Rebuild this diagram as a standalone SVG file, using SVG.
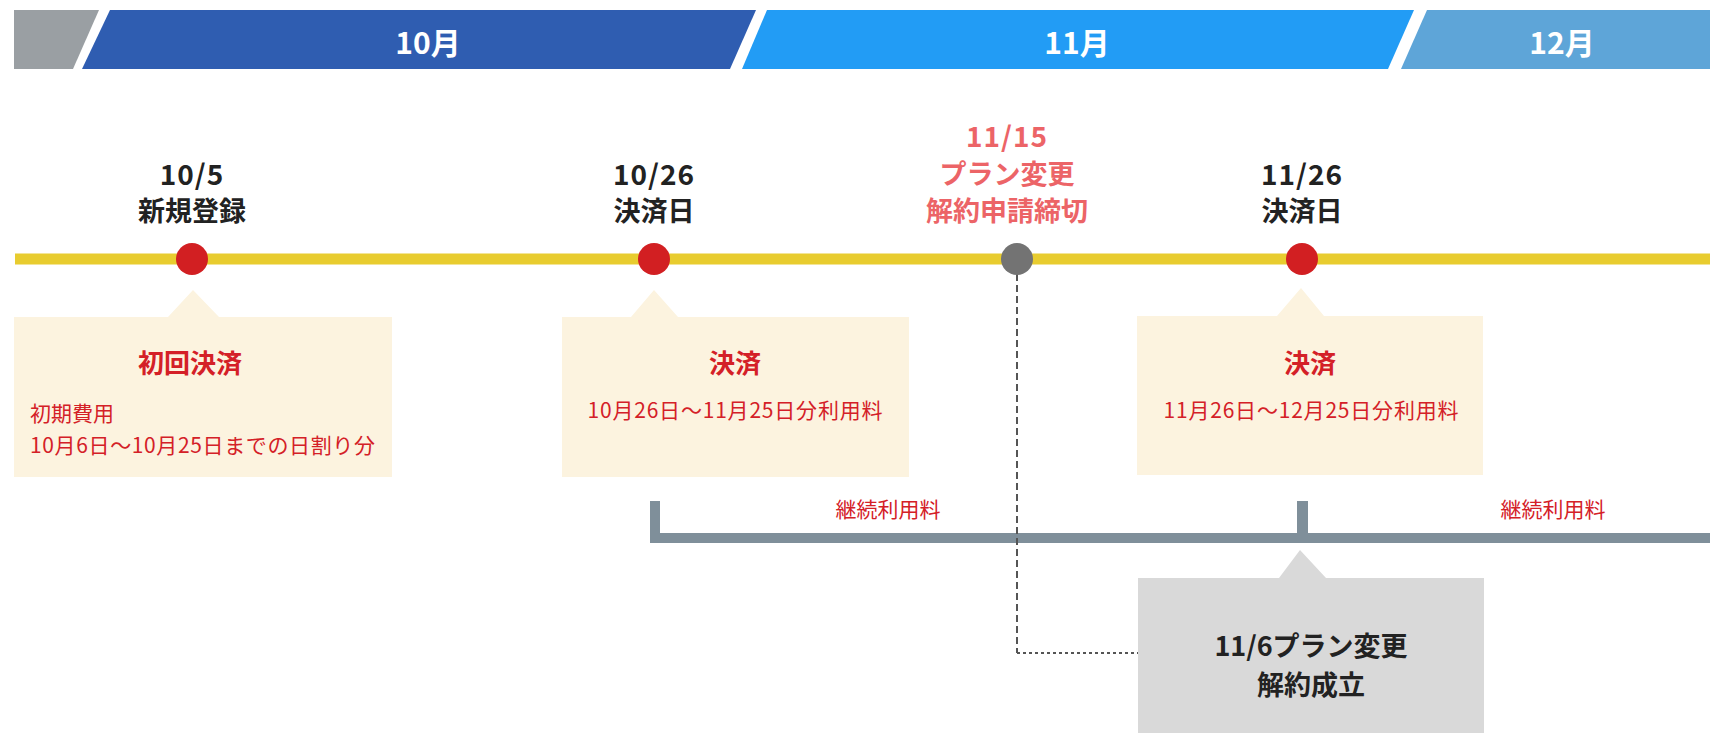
<svg xmlns="http://www.w3.org/2000/svg" width="1710" height="733" viewBox="0 0 1710 733">
<style>
text{font-family:"Noto Sans CJK JP","Noto Sans",sans-serif}
.hd{fill:#fff;font-size:30px;font-weight:bold;text-anchor:middle}
.dt{fill:#222;font-size:28px;font-weight:bold;text-anchor:middle;letter-spacing:1px}
.dk{fill:#222;font-size:27px;font-weight:bold;text-anchor:middle}
.sal{fill:#ec6467}
.ttl{fill:#d42027;font-size:26px;font-weight:bold;text-anchor:middle}
.sub{fill:#d42027;font-size:21px}
.mid{text-anchor:middle}
.box{fill:#fcf3df}
.dot{fill:#d21f22}
.brk{fill:#7f8f9a}
</style>
<g id="header">
<polygon points="14,10 99,10 73,69 14,69" fill="#9a9fa3"/>
<polygon points="110,10 756,10 730,69 82,69" fill="#2f5db1"/>
<polygon points="767,10 1414,10 1388,69 742,69" fill="#229cf5"/>
<polygon points="1427,10 1710,10 1710,69 1401,69" fill="#5ea5d8"/>
<text class="hd" x="428" y="54">10月</text>
<text class="hd" x="1077" y="54">11月</text>
<text class="hd" x="1562" y="54">12月</text>
</g>
<g id="connectors">
<line x1="15" y1="259" x2="1710" y2="259" stroke="#e8cc2f" stroke-width="11"/>
<rect class="brk" x="650" y="501" width="10" height="42"/>
<rect class="brk" x="1297" y="501" width="11" height="42"/>
<rect class="brk" x="650" y="533" width="1060" height="10"/>
<path d="M1017,274 V653" fill="none" stroke="#555" stroke-width="2" stroke-dasharray="7 4"/>
<path d="M1017,653 H1138" fill="none" stroke="#555" stroke-width="2" stroke-dasharray="3 3"/>
<text class="sub mid" x="888" y="517">継続利用料</text>
<text class="sub mid" x="1553" y="517">継続利用料</text>
</g>
<g id="node-1005">
<text class="dt" x="192" y="185">10/5</text>
<text class="dk" x="192" y="221">新規登録</text>
<circle class="dot" cx="192" cy="259" r="16"/>
</g>
<g id="node-1026">
<text class="dt" x="654" y="185">10/26</text>
<text class="dk" x="654" y="221">決済日</text>
<circle class="dot" cx="654" cy="259" r="16"/>
</g>
<g id="node-1115">
<text class="dt sal" x="1007" y="147">11/15</text>
<text class="dk sal" x="1007" y="184">プラン変更</text>
<text class="dk sal" x="1007" y="221">解約申請締切</text>
<circle cx="1017" cy="259" r="16" fill="#737373"/>
</g>
<g id="node-1126">
<text class="dt" x="1302" y="185">11/26</text>
<text class="dk" x="1302" y="221">決済日</text>
<circle class="dot" cx="1302" cy="259" r="16"/>
</g>
<g id="box-first">
<polygon class="box" points="14,317 168,317 193,290 219,317 392,317 392,477 14,477"/>
<text class="ttl" x="190" y="373">初回決済</text>
<text class="sub" x="30" y="421">初期費用</text>
<text class="sub" x="30" y="453" textLength="345">10月6日～10月25日までの日割り分</text>
</g>
<g id="box-oct">
<polygon class="box" points="562,317 631,317 654,290 678,317 909,317 909,477 562,477"/>
<text class="ttl" x="735" y="373">決済</text>
<text class="sub mid" x="735" y="418" textLength="295">10月26日～11月25日分利用料</text>
</g>
<g id="box-nov">
<polygon class="box" points="1137,316 1277,316 1301,288 1324,316 1483,316 1483,475 1137,475"/>
<text class="ttl" x="1310" y="373">決済</text>
<text class="sub mid" x="1311" y="418" textLength="295">11月26日～12月25日分利用料</text>
</g>
<g id="box-cancel">
<polygon points="1138,578 1279,578 1300,550 1326,578 1484,578 1484,733 1138,733" fill="#d9d9d9"/>
<text class="dk" x="1311" y="656">11/6プラン変更</text>
<text class="dk" x="1311" y="695">解約成立</text>
</g>
</svg>
